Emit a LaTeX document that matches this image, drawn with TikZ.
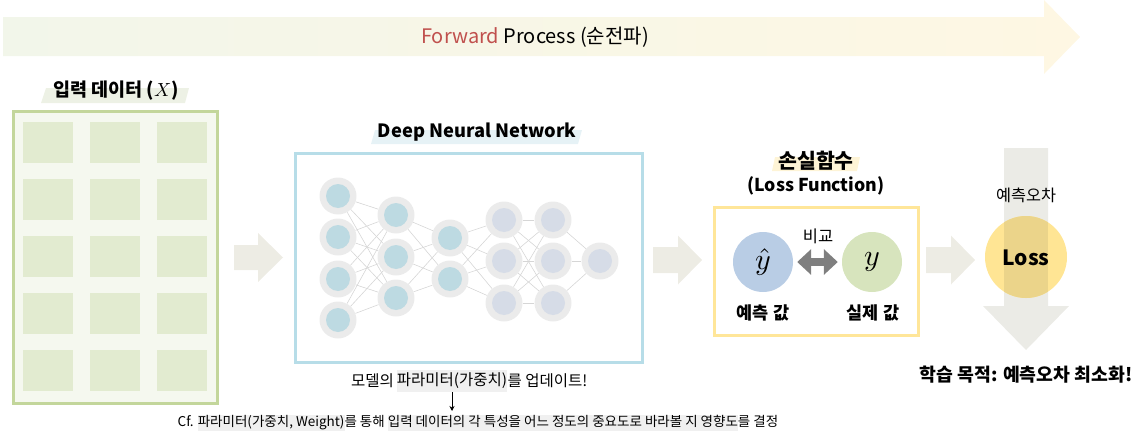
\documentclass[tikz,border=0pt]{standalone}
\usepackage{graphicx}
\usepackage{fontspec}
\setmainfont{Noto Sans CJK KR}
\usetikzlibrary{arrows.meta,calc}
\definecolor{bannerL}{HTML}{F2F6EA}
\definecolor{bannerM}{HTML}{EAF4F7}
\definecolor{bannerR}{HTML}{FEF7E3}
\definecolor{fwdred}{HTML}{C0504D}
\definecolor{databorder}{HTML}{C3D69B}
\definecolor{datafill}{HTML}{F5F8EF}
\definecolor{cellfill}{HTML}{E2EBD0}
\definecolor{blockarrow}{HTML}{EDECE4}
\definecolor{dnnborder}{HTML}{B7DDE8}
\definecolor{neuronout}{HTML}{EBEBEB}
\definecolor{neuronA}{HTML}{BDDAE2}
\definecolor{neuronB}{HTML}{D6DCE7}
\definecolor{edgegray}{HTML}{D6D6D6}
\definecolor{lossborder}{HTML}{FFE699}
\definecolor{yhatfill}{HTML}{B9CDE5}
\definecolor{yfill}{HTML}{D7E4BD}
\definecolor{dblarrow}{HTML}{7F7F7F}
\definecolor{downarrow}{HTML}{EBEBE6}
\definecolor{losscircle}{HTML}{FFE594}
\definecolor{lossoverlap}{HTML}{EBD48A}
\definecolor{hlgreen}{HTML}{EDF1E5}
\definecolor{hlblue}{HTML}{E6F2F6}
\definecolor{hlyellow}{HTML}{FEF4D6}
\definecolor{hlgray}{HTML}{F0F0F0}
\tikzset{
  neuA/.style={circle, fill=neuronout, minimum size=37, inner sep=0,
    path picture={\fill[neuronA] (path picture bounding box.center) circle (12);}},
  neuB/.style={circle, fill=neuronout, minimum size=37, inner sep=0,
    path picture={\fill[neuronB] (path picture bounding box.center) circle (12);}},
  nnedge/.style={draw=edgegray, line width=0.6},
  cellbox/.style={fill=cellfill},
  blockarr/.style={fill=blockarrow},
  title/.style={font=\bfseries\fontsize{18.3}{22}\selectfont, inner sep=0},
  updtext/.style={inner sep=0, font=\fontsize{15.5}{19}\selectfont},
}
\newcommand{\hlbox}[1]{{\setlength{\fboxsep}{0pt}\colorbox{hlgray}{\strut #1}}}
\begin{document}
\begin{tikzpicture}[x=1pt,y=-1pt]
\useasboundingbox (0,0) rectangle (1144,447);
% banner
\shade[left color=bannerL, middle color=bannerM, right color=bannerR]
  (3,17) -- (1044,17) -- (1044,0) -- (1080,37) -- (1044,74) -- (1044,56) -- (3,56) -- cycle;
\node[inner sep=0, font=\fontsize{20}{24}\selectfont] (fwd) at (535,37)
  {\textcolor{fwdred}{Forward} Process (순전파)};

% input data
\fill[hlgreen] (41,103) -- (46,88) -- (189,88) -- (185,103) -- cycle;
\node[title, font=\bfseries\fontsize{18.5}{22}\selectfont] (intitle) at (116,91) {입력 데이터 (\scalebox{1.9}{\normalsize$X$})};
\node[draw=databorder, line width=3, fill=datafill, minimum width=204, minimum height=292,
  inner sep=0] (data) at (115.5,257.5) {};
\foreach \x in {23,90,157}
  \foreach \y in {122,179,236,293,350}
    \fill[cellbox] (\x,\y) rectangle ++(50,41);

% block arrow 1
\fill[blockarr] (234,245) -- (258,245) -- (258,233) -- (283,257.5) -- (258,282) -- (258,270) -- (234,270) -- cycle;

% DNN
\fill[hlblue] (371,144) -- (375,130) -- (582,130) -- (578,144) -- cycle;
\node[title] (dnntitle) at (477,132) {Deep Neural Network};
\node[draw=dnnborder, line width=3, minimum width=347, minimum height=209, inner sep=0]
  (dnn) at (468.5,257.5) {};
\foreach \i/\y in {1/196,2/237,3/279,4/320} \node[neuA] (a\i) at (338,\y) {};
\foreach \i/\y in {1/215,2/257,3/298} \node[neuA] (b\i) at (396,\y) {};
\foreach \i/\y in {1/238,2/279} \node[neuA] (c\i) at (450,\y) {};
\foreach \i/\y in {1/220,2/261,3/303} \node[neuB] (d\i) at (504,\y) {};
\foreach \i/\y in {1/220,2/261,3/303} \node[neuB] (e\i) at (553,\y) {};
\node[neuB] (f1) at (600,261) {};
\foreach \i in {1,...,4} \foreach \j in {1,2,3} \draw[nnedge] (a\i) -- (b\j);
\foreach \i in {1,2,3} \foreach \j in {1,2} \draw[nnedge] (b\i) -- (c\j);
\foreach \i in {1,2} \foreach \j in {1,2,3} \draw[nnedge] (c\i) -- (d\j);
\foreach \i in {1,2,3} \foreach \j in {1,2,3} \draw[nnedge] (d\i) -- (e\j);
\foreach \i in {1,2,3} \draw[nnedge] (e\i) -- (f1);

% update text
\node[updtext, fill=hlgray, text height=12, text depth=4, inner ysep=3] (updhl) at (452,381) {파라미터(가중치)};
\node[updtext, anchor=east] (updl) at (updhl.west) {모델의\,};
\node[updtext, anchor=west] (updr) at (updhl.east) {를 업데이트!};
\node[inner sep=0, font=\fontsize{13.5}{16}\selectfont] (cf) at (478,423)
  {Cf. \hlbox{파라미터(가중치, Weight)}를 통해 \hlbox{입력 데이터의 각 특성을 어느 정도의 중요도로 바라볼 지 영향도}를 결정};
\draw[-{Stealth[length=5,width=5]}, line width=0.7] (updhl.south) -- (updhl.south |- 0,411);

% block arrow 2
\fill[blockarr] (653,247) -- (678,247) -- (678,235.5) -- (702,260) -- (678,284.5) -- (678,273) -- (653,273) -- cycle;

% loss function
\fill[hlyellow] (772,171) -- (775,157) -- (860,157) -- (857,171) -- cycle;
\node[title, font=\bfseries\fontsize{20.5}{24}\selectfont] (lftitle) at (816,161) {손실함수};
\node[title, font=\bfseries\fontsize{17.7}{21}\selectfont] (lfsub) at (816,186) {(Loss Function)};
\node[draw=lossborder, line width=3, minimum width=204, minimum height=128, inner sep=0]
  (lossbox) at (816,271) {};
\node[circle, fill=yhatfill, minimum size=60, inner sep=0] (yhat) at (763,262) {\scalebox{3}{\normalsize$\hat{y}$}};
\node[circle, fill=yfill, minimum size=60, inner sep=0] (yreal) at (872,262) {\scalebox{3}{\normalsize$y$}};
\coordinate (dl) at ($(yhat.east)+(4,0)$);
\coordinate (dr) at ($(yreal.west)+(-4,0)$);
\draw[dblarrow, line width=8, {Triangle[length=14,width=25]}-{Triangle[length=14,width=25]}] (dl) -- (dr);
\node[inner sep=0, font=\fontsize{16.5}{20}\selectfont] (cmp) at (818,236) {비교};
\node[inner sep=0, font=\bfseries\fontsize{17.5}{21}\selectfont] (predlab) at (763,313) {예측 값};
\node[inner sep=0, font=\bfseries\fontsize{17.5}{21}\selectfont] (reallab) at (873,313) {실제 값};

% block arrow 3
\fill[blockarr] (926,247) -- (951,247) -- (951,235.5) -- (975,260) -- (951,284.5) -- (951,273) -- (926,273) -- cycle;

% down arrow and loss circle
\fill[downarrow] (1004,148) -- (1048,148) -- (1048,306) -- (1069,306) -- (1026,350) -- (983,306) -- (1004,306) -- cycle;
\node[circle, fill=losscircle, minimum size=82, inner sep=0] (losscirc) at (1026,257) {};
\begin{scope}
  \clip (1026,257) circle (41);
  \fill[lossoverlap] (1004,148) rectangle (1048,306);
\end{scope}
\node[inner sep=0, font=\bfseries\fontsize{21}{25}\selectfont] (losstext) at (1026,258) {Loss};
\node[inner sep=0, font=\fontsize{16.3}{20}\selectfont] (errlab) at (1026,195) {예측오차};
\node[inner sep=0, font=\bfseries\fontsize{18.3}{22}\selectfont] (goal) at (1026,375) {학습 목적: 예측오차 최소화!};
\end{tikzpicture}
\end{document}
